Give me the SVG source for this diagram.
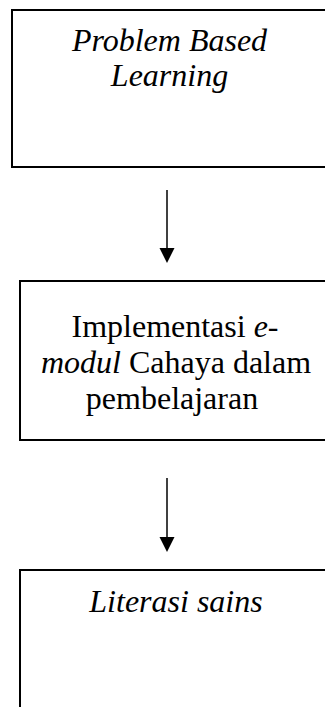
<svg xmlns="http://www.w3.org/2000/svg" width="325" height="707" viewBox="0 0 325 707">
<style>
.box{fill:#fff;stroke:#000;stroke-width:2}
.t{font-family:"Liberation Serif","Times New Roman",serif;font-size:32px;fill:#000;text-anchor:middle}
.i{font-style:italic}
.c{stroke:#000;stroke-width:1.5;fill:none}
</style>
<rect width="325" height="707" fill="#fff"/>
<g id="n1">
<rect class="box" x="12" y="10" width="330" height="157"/>
<text class="t i" x="169.5" y="51">Problem Based</text>
<text class="t i" x="169.5" y="86">Learning</text>
</g>
<g id="n2">
<rect class="box" x="20" y="281" width="330" height="159"/>
<text class="t" x="175" y="337">Implementasi <tspan class="i">e-</tspan></text>
<text class="t" x="176" y="373"><tspan class="i">modul</tspan> Cahaya dalam</text>
<text class="t" x="172" y="409">pembelajaran</text>
</g>
<g id="n3">
<rect class="box" x="20" y="570" width="330" height="160"/>
<text class="t i" x="176" y="612">Literasi sains</text>
</g>
<g id="connectors">
<path d="M167,190 V248" class="c"/>
<path d="M159.5,248 L174.5,248 L167,263 z" fill="#000"/>
<path d="M167,478 V537" class="c"/>
<path d="M159.5,537 L174.5,537 L167,552 z" fill="#000"/>
</g>
</svg>
